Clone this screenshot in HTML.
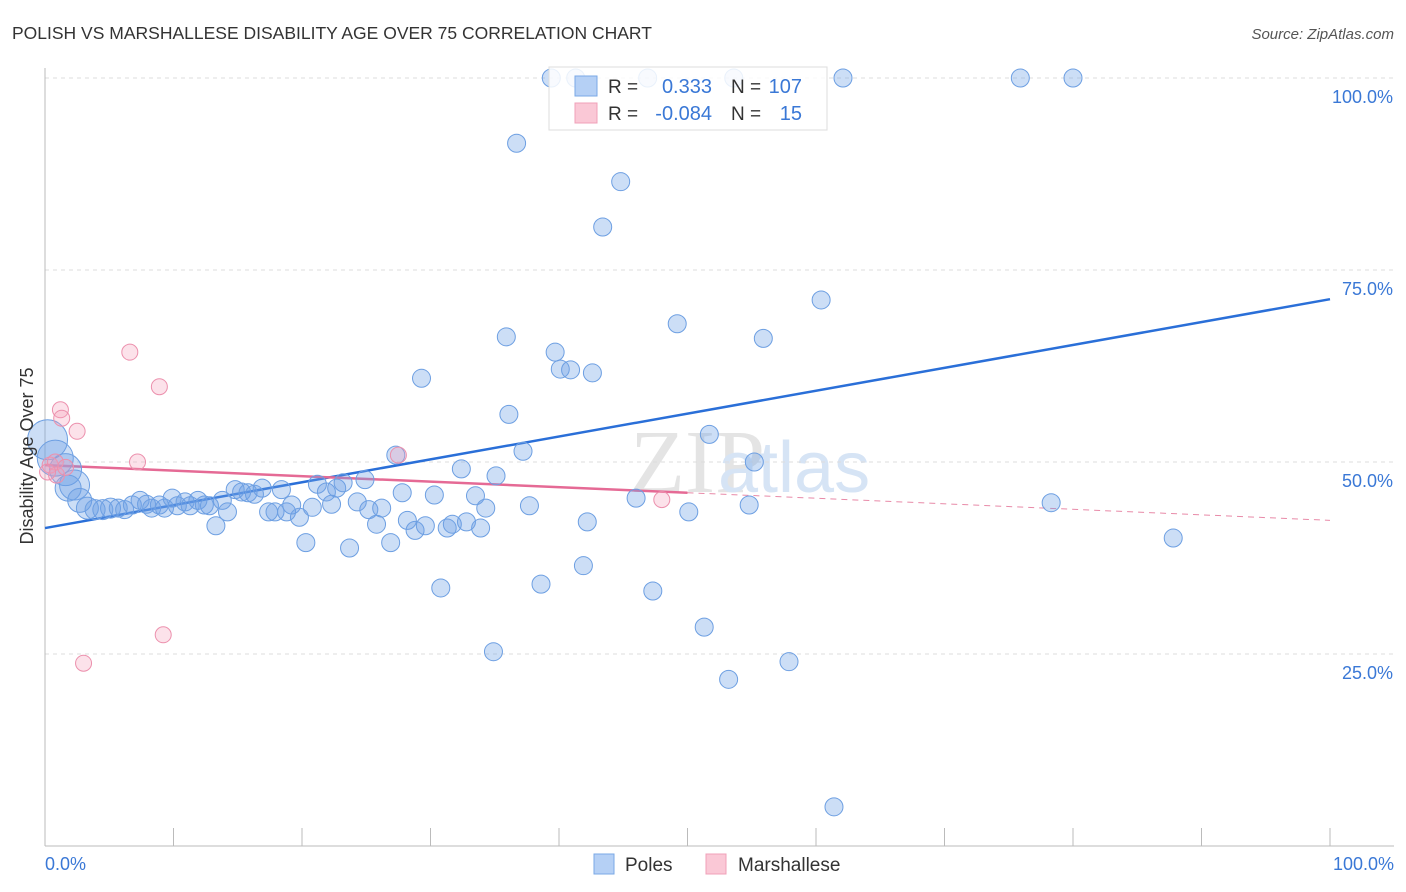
<!DOCTYPE html>
<html><head><meta charset="utf-8"><style>
body{margin:0;background:#fff;font-family:"Liberation Sans",sans-serif;}
svg{display:block}
</style></head><body>
<svg id="chart" width="1406" height="892">
<text x="12" y="39" font-size="17.5" fill="#333">POLISH VS MARSHALLESE DISABILITY AGE OVER 75 CORRELATION CHART</text>
<text x="1394" y="39" font-size="15" fill="#555" font-style="italic" text-anchor="end">Source: ZipAtlas.com</text>
<text x="630" y="492" font-size="90" fill="#e4e4e4" font-family="Liberation Serif">ZIP</text>
<text x="718" y="492" font-size="72" fill="#d6e4f5">atlas</text>
<g id="grid"></g><g id="axes"></g><g id="trends"></g><g id="points"></g>
<g>
<rect x="549" y="67" width="278" height="63" fill="rgba(255,255,255,0.85)" stroke="#ddd"/>
<rect x="575" y="76" width="22" height="20" fill="#b5d0f5" stroke="#7aa8e6"/>
<rect x="575" y="103" width="22" height="20" fill="#fac8d6" stroke="#f0a0b8"/>
<text x="608" y="93" font-size="19" fill="#333">R =</text><text x="712" y="93" font-size="20" fill="#3a78d6" text-anchor="end">0.333</text>
<text x="731" y="93" font-size="19" fill="#333">N =</text><text x="802" y="93" font-size="20" fill="#3a78d6" text-anchor="end">107</text>
<text x="608" y="120" font-size="19" fill="#333">R =</text><text x="712" y="120" font-size="20" fill="#3a78d6" text-anchor="end">-0.084</text>
<text x="731" y="120" font-size="19" fill="#333">N =</text><text x="802" y="120" font-size="20" fill="#3a78d6" text-anchor="end">15</text>
</g>
<text x="33" y="456" font-size="18" fill="#333" transform="rotate(-90 33 456)" text-anchor="middle">Disability Age Over 75</text>
<text x="45" y="870" font-size="18" fill="#3a78d6">0.0%</text>
<text x="1394" y="870" font-size="18" fill="#3a78d6" text-anchor="end">100.0%</text>
<g>
<rect x="594" y="854" width="20" height="20" fill="#b5d0f5" stroke="#7aa8e6"/><text x="625" y="871" font-size="19" fill="#333">Poles</text>
<rect x="706" y="854" width="20" height="20" fill="#fac8d6" stroke="#f0a0b8"/><text x="738" y="871" font-size="19" fill="#333">Marshallese</text>
</g>
</svg>
<script>
const polesX=[39.4,41.3,46.9,53.6,62.1,75.9,80.0,36.7,44.8,43.4,60.4,49.2,55.9,35.9,39.7,40.1,40.9,42.6,29.3,36.1,51.7,37.2,55.2,27.3,32.4,35.1,78.3,87.8,0.2,0.8,1.6,2.3,1.8,2.7,3.3,3.9,4.5,5.1,5.7,6.2,6.8,7.4,7.9,8.3,8.9,9.3,9.9,10.3,10.9,11.3,11.9,12.4,12.8,13.3,13.8,14.2,14.8,15.3,15.8,16.3,16.9,17.4,17.9,18.4,18.8,19.2,19.8,20.3,20.8,21.2,21.9,22.3,22.7,23.2,23.7,24.3,24.9,25.2,25.8,26.2,26.9,27.8,28.2,28.8,29.6,30.3,31.3,31.7,32.8,33.5,33.9,34.3,30.8,34.9,37.7,38.6,41.9,42.2,46.0,47.3,50.1,51.3,53.2,54.8,57.9,61.4];
const polesY=[100,100,100,100,100,100,100,91.5,86.5,80.6,71.1,68.0,66.1,66.3,64.3,62.1,62.0,61.6,60.9,56.2,53.6,51.4,50.0,50.9,49.1,48.2,44.7,40.1,52.9,50.5,49.0,47.0,46.6,45.0,44.0,43.8,43.8,44.0,44.0,43.8,44.4,45.0,44.5,44.0,44.4,44.0,45.3,44.3,44.8,44.3,45.0,44.4,44.3,41.7,45.0,43.5,46.4,46.1,46.0,45.8,46.6,43.5,43.5,46.4,43.5,44.4,42.8,39.5,44.1,47.1,46.1,44.5,46.6,47.3,38.8,44.8,47.7,43.8,41.9,44.0,39.5,46.0,42.4,41.1,41.7,45.7,41.4,41.9,42.2,45.6,41.4,44.0,33.6,25.3,44.3,34.1,36.5,42.2,45.3,33.2,43.5,28.5,21.7,44.4,24.0,5.1];
const polesSize=[9,9,9,9,9,9,9,9,9,9,9,9,9,9,9,9,9,9,9,9,9,9,9,9,9,9,9,9,20,18,16,15,13,12,11,10,10,10,9,9,9,9,9,9,9,9,9,9,9,9,9,9,9,9,9,9,9,9,9,9,9,9,9,9,9,9,9,9,9,9,9,9,9,9,9,9,9,9,9,9,9,9,9,9,9,9,9,9,9,9,9,9,9,9,9,9,9,9,9,9,9,9,9,9,9,9];
const marshX=[0.4,0.8,1.2,1.3,2.5,6.6,8.9,7.2,9.2,3.0,27.5,48.0,0.9,1.6,0.2];
const marshY=[49.6,50.0,56.8,55.7,54.0,64.3,59.8,50.0,27.5,23.8,50.9,45.1,48.3,49.3,48.7];
const polesTrend=[41.4,71.2];
const marshTrend=[49.6,42.4];
const marshSolidEnd=50;
const yTicks=[25,50,75,100];
const yTickLabels=["25.0%","50.0%","75.0%","100.0%"];
const xTicks=[0,10,20,30,40,50,60,70,80,90,100];

const NS="http://www.w3.org/2000/svg";
const X=v=>45+v*12.85, Y=v=>846-v*7.68;
function mk(tag,attrs,parent){const e=document.createElementNS(NS,tag);for(const k in attrs)e.setAttribute(k,attrs[k]);document.getElementById(parent).appendChild(e);return e;}
yTicks.forEach((t,i)=>{
  const g=mk('line',{x1:45,x2:1394,y1:Y(t),y2:Y(t),stroke:'#ddd','stroke-dasharray':'4,4'},'grid');
  
  
  const l=mk('text',{x:1393,y:Y(t)+25,'font-size':18,fill:'#3a78d6','text-anchor':'end'},'grid');
  l.textContent=yTickLabels[i];
  
  
});
let a=mk('line',{x1:45,x2:45,y1:68,y2:846,stroke:'#bbb'},'axes');


a=mk('line',{x1:45,x2:1394,y1:846,y2:846,stroke:'#bbb'},'axes');


xTicks.forEach(t=>{const e=mk('line',{x1:X(t),x2:X(t),y1:828,y2:846,stroke:'#bbb'},'axes');
  
  });
polesX.forEach((x,i)=>{const c=mk('circle',{cx:X(x),cy:Y(polesY[i]),r:polesSize[i],fill:'rgba(110,160,230,0.35)',stroke:'#6d9fe2','stroke-width':1},'points');
  
  });
marshX.forEach((x,i)=>{const c=mk('circle',{cx:X(x),cy:Y(marshY[i]),r:8,fill:'rgba(245,160,185,0.3)',stroke:'#ec90ad','stroke-width':1},'points');
  
  });
let t=mk('line',{x1:X(0),y1:Y(polesTrend[0]),x2:X(100),y2:Y(polesTrend[1]),stroke:'#2a6fd8','stroke-width':2.5},'trends');


const mY=v=>marshTrend[0]+(marshTrend[1]-marshTrend[0])*v/100;
t=mk('line',{x1:X(0),y1:Y(mY(0)),x2:X(marshSolidEnd),y2:Y(mY(marshSolidEnd)),stroke:'#e56a95','stroke-width':2.5},'trends');


t=mk('line',{x1:X(marshSolidEnd),y1:Y(mY(marshSolidEnd)),x2:X(100),y2:Y(mY(100)),stroke:'#e88aa8','stroke-width':1,'stroke-dasharray':'6,5'},'trends');


</script>
</body></html>
